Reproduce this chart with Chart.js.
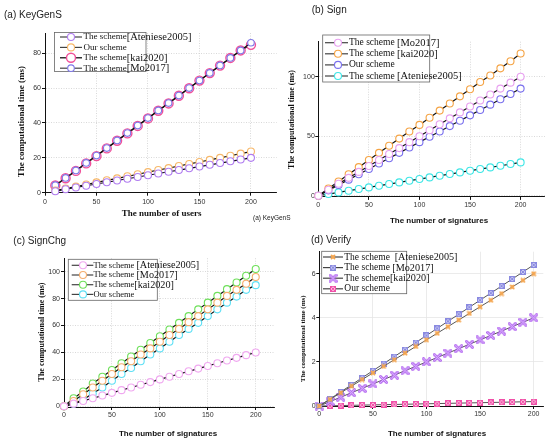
<!DOCTYPE html>
<html>
<head>
<meta charset="utf-8">
<script src="https://cdn.jsdelivr.net/npm/chart.js@4.4.0/dist/chart.umd.min.js"></script>
<style>
  body { margin: 0; background: #fff; width: 550px; height: 444px; position: relative; overflow: hidden; }
  .panel { position: absolute; }
</style>
</head>
<body>
<div class="panel" style="left:0;top:0;width:300px;height:222px"><canvas id="chartA"></canvas></div>
<div class="panel" style="left:280px;top:0;width:270px;height:230px"><canvas id="chartB"></canvas></div>
<div class="panel" style="left:0;top:222px;width:280px;height:222px"><canvas id="chartC"></canvas></div>
<div class="panel" style="left:280px;top:222px;width:270px;height:222px"><canvas id="chartD"></canvas></div>
<script>
// x values
const userCounts = [10, 20, 30, 40, 50, 60, 70, 80, 90, 100, 110, 120, 130, 140, 150, 160, 170, 180, 190, 200];
const signatureCounts = [0, 10, 20, 30, 40, 50, 60, 70, 80, 90, 100, 110, 120, 130, 140, 150, 160, 170, 180, 190, 200];

// tick labels
const xTickValues = [0, 50, 100, 150, 200];
const keyGenTicksY = [0, 20, 40, 60, 80];
const signTicksY = [0, 50, 100];
const signChgTicksY = [0, 20, 40, 60, 80, 100];
const verifyTicksY = [0, 2, 4, 6];

// (a) KeyGenS
const keyGenAteniese = [0.8, 2, 3, 4, 5, 6, 7, 8, 9, 10, 11, 12, 13, 14, 15, 16, 17, 18, 19, 20];
const keyGenOur = [1.2, 2.4, 3.5, 4.7, 5.9, 7.1, 8.2, 9.4, 10.6, 11.8, 13, 14.1, 15.3, 16.5, 17.6, 18.8, 20, 21.2, 22.4, 23.6];
const keyGenKai = [4.1, 8.3, 12.5, 16.8, 21, 25.4, 29.8, 34, 38.3, 42.6, 47, 51.2, 55.6, 59.9, 64.3, 68.6, 72.9, 77.3, 81.6, 84.8];
const keyGenMo = [4.3, 8.5, 12.8, 17.1, 21.3, 25.6, 30, 34.2, 38.5, 42.8, 47.2, 51.4, 55.7, 60, 64.3, 68.7, 73, 77.3, 81.6, 86];

// (b) Sign
const signMo = [0, 5, 10, 15, 20, 25, 30, 35, 40, 45, 50, 55, 60, 65, 70, 75, 80, 85, 90, 95, 100];
const signKai = [0, 6, 12, 18, 24, 30, 36, 42, 48, 54, 59.5, 65.5, 71.5, 77.5, 83.5, 89.5, 95.5, 101, 107, 113, 119.5];
const signOur = [0, 4.5, 9, 13.5, 18, 22.5, 27, 31.5, 36, 40.5, 45, 49.5, 54, 58.5, 63, 67.5, 72, 76.5, 81, 85.5, 90];
const signAteniese = [0, 1.4, 2.8, 4.2, 5.6, 7, 8.4, 9.8, 11.2, 12.6, 14, 15.4, 16.8, 18.2, 19.6, 21, 22.4, 23.8, 25.2, 26.6, 28];

// (c) SignChg
const signChgAteniese = [0, 2, 4, 6, 8, 10, 12, 14, 16, 18, 20, 22, 24, 26, 28, 30, 32, 34, 36, 38, 40];
const signChgMo = [0, 4, 9, 14, 19, 24, 29, 33.5, 38.5, 43, 48, 53, 57.5, 62.5, 67, 72, 77, 82, 86.5, 91, 96];
const signChgKai = [0, 6, 11, 17, 22, 27, 32, 37, 42, 47, 52, 57, 62, 67, 72, 77, 82, 87, 92, 97, 102];
const signChgOur = [0, 2, 5, 9.5, 14, 19, 24, 28.5, 33.5, 38.5, 43, 48, 53, 57.5, 62, 67, 72, 77, 81.5, 86.5, 90];

// (d) Verify
const verifyAteniese = [0, 0.3, 0.6, 0.9, 1.2, 1.5, 1.8, 2.1, 2.4, 2.7, 3, 3.3, 3.6, 3.9, 4.2, 4.5, 4.8, 5.1, 5.4, 5.7, 6];
const verifyMo = [0, 0.32, 0.64, 0.96, 1.28, 1.6, 1.92, 2.24, 2.56, 2.88, 3.2, 3.52, 3.84, 4.16, 4.48, 4.8, 5.12, 5.44, 5.76, 6.08, 6.4];
const verifyKai = [0, 0.2, 0.4, 0.6, 0.8, 1, 1.2, 1.4, 1.6, 1.8, 2, 2.2, 2.4, 2.6, 2.8, 3, 3.2, 3.4, 3.6, 3.8, 4];
const verifyOur = [0, 0.01, 0.02, 0.03, 0.04, 0.05, 0.06, 0.07, 0.08, 0.09, 0.1, 0.11, 0.12, 0.13, 0.14, 0.15, 0.16, 0.17, 0.18, 0.19, 0.2];

const SERIF = '"Liberation Serif", "Times New Roman", serif';
const SANS = '"Liberation Sans", Arial, sans-serif';
const Y_TITLE = 'The computational time (ms)';

// small marker images for the Verify panel
function boxCross(stroke, fill, size) {
    const c = document.createElement('canvas');
    c.width = c.height = size;
    const g = c.getContext('2d');
    g.fillStyle = fill;
    g.fillRect(0.5, 0.5, size - 1, size - 1);
    g.strokeStyle = stroke;
    g.lineWidth = 1;
    g.strokeRect(0.5, 0.5, size - 1, size - 1);
    g.beginPath();
    g.moveTo(1, 1); g.lineTo(size - 1, size - 1);
    g.moveTo(size - 1, 1); g.lineTo(1, size - 1);
    g.stroke();
    return c;
}
function outlinedX(stroke, inner, size, outer, core) {
    const c = document.createElement('canvas');
    c.width = c.height = size;
    const g = c.getContext('2d');
    g.lineCap = 'round';
    const cross = () => {
        g.beginPath();
        g.moveTo(1.5, 1.5); g.lineTo(size - 1.5, size - 1.5);
        g.moveTo(size - 1.5, 1.5); g.lineTo(1.5, size - 1.5);
        g.stroke();
    };
    g.strokeStyle = stroke; g.lineWidth = outer; cross();
    if (core) {
        g.strokeStyle = inner; g.lineWidth = core; cross();
    }
    return c;
}

function toPoints(xs, ys) {
    return xs.map((x, i) => ({ x: x, y: ys[i] }));
}

function circleSeries(label, color, xs, ys, extra) {
    return Object.assign({
        label: label,
        data: toPoints(xs, ys),
        borderColor: '#111',
        borderWidth: 1.2,
        pointStyle: 'circle',
        pointRadius: 3.5,
        pointBorderWidth: 1.1,
        pointBorderColor: color,
        pointBackgroundColor: '#fff',
        tension: 0,
        clip: false
    }, extra || {});
}

function markSeries(label, color, style, radius, xs, ys) {
    return {
        label: label,
        data: toPoints(xs, ys),
        borderColor: '#555',
        borderWidth: 1,
        pointStyle: style,
        pointRadius: radius,
        pointBorderWidth: 1.5,
        pointBorderColor: color,
        pointBackgroundColor: color,
        tension: 0,
        clip: false
    };
}

const panels = [
    {
        canvas: 'chartA', w: 300, h: 222,
        area: { left: 45, top: 33, right: 276.7, bottom: 192.7 },
        x: { min: 0, max: 225, ticks: xTickValues, pad: 2.5 },
        y: { min: 0, max: 91.6, ticks: keyGenTicksY, pad: 1 },
        grid: { color: '#cfcfcf', dash: [1, 1.5] },
        title: { text: '(a) KeyGenS', x: 4, y: 15 },
        caption: { text: '(a) KeyGenS', x: 253, y: 218.3 },
        xTitle: { text: 'The number of users', x: 161.7, y: 213.3, size: 9, family: SERIF },
        yTitle: { text: Y_TITLE, x: 21.7, y: 121.7, size: 9 },
        legend: { x: 54.5, y: 32.5, w: 91.5, h: 39, row0: 37, gap: 10.4, x0: 60, x1: 82, mx: 71, tx: 83.5, font: 9, big: 10.5 },
        series: [
            circleSeries('The scheme[Ateniese2005]', '#b07cf0', userCounts, keyGenAteniese),
            circleSeries('Our scheme', '#f7b86a', userCounts, keyGenOur),
            circleSeries('The scheme[kai2020]', '#f0509a', userCounts, keyGenKai, { pointRadius: 4.5, pointBorderWidth: 1.4, order: 1, legendLine: '#000' }),
            circleSeries('The scheme[Mo2017]', '#7f78e8', userCounts, keyGenMo, { pointRadius: 3.3, order: 0 })
        ]
    },
    {
        canvas: 'chartB', w: 270, h: 230,
        area: { left: 38.3, top: 41.7, right: 265, bottom: 196.9 },
        x: { min: 0, max: 224, ticks: xTickValues, pad: 1 },
        y: { min: -1, max: 129.4, ticks: signTicksY, pad: 0.5 },
        grid: { color: '#cfcfcf', dash: [1, 1.5] },
        title: { text: '(b) Sign', x: 31.7, y: 10 },
        xTitle: { text: 'The number of signatures', x: 159, y: 221, size: 8, family: SANS },
        yTitle: { text: Y_TITLE, x: 11.7, y: 119.5, size: 8 },
        legend: { x: 42.7, y: 35, w: 107, h: 47, row0: 42.7, gap: 11.1, x0: 45, x1: 68, mx: 58, tx: 69, font: 9.5, big: 10.5 },
        series: [
            circleSeries('The scheme [Mo2017]', '#e8a0f0', signatureCounts, signMo),
            circleSeries('The scheme [kai2020]', '#f5a445', signatureCounts, signKai),
            circleSeries('Our scheme', '#7a70ee', signatureCounts, signOur),
            circleSeries('The scheme [Ateniese2005]', '#3ee6e6', signatureCounts, signAteniese)
        ]
    },
    {
        canvas: 'chartC', w: 280, h: 222,
        area: { left: 64, top: 36.2, right: 277.1, bottom: 185 },
        x: { min: 0, max: 220, ticks: xTickValues, pad: 1 },
        y: { min: -0.5, max: 110, ticks: signChgTicksY, pad: 1 },
        grid: { color: '#cfcfcf', dash: [1, 1.5] },
        title: { text: '(c) SignChg', x: 13.3, y: 19.5 },
        xTitle: { text: 'The number of signatures', x: 168, y: 211.7, size: 8, family: SANS },
        yTitle: { text: Y_TITLE, x: 41.7, y: 110, size: 8 },
        legend: { x: 68.3, y: 37.3, w: 89, h: 41, row0: 43.3, gap: 9.7, x0: 71.7, x1: 93.3, mx: 83, tx: 93.5, font: 8.5, big: 10.2 },
        series: [
            circleSeries('The scheme [Ateniese2005]', '#f0a8f0', signatureCounts, signChgAteniese),
            circleSeries('The scheme [Mo2017]', '#f5ae6e', signatureCounts, signChgMo),
            circleSeries('The scheme[kai2020]', '#6ee05a', signatureCounts, signChgKai),
            circleSeries('Our scheme', '#5ee0f5', signatureCounts, signChgOur)
        ]
    },
    {
        canvas: 'chartD', w: 270, h: 222,
        area: { left: 39.3, top: 29.7, right: 263.3, bottom: 184 },
        x: { min: 0, max: 209, ticks: xTickValues, pad: 1 },
        y: { min: 0, max: 7, ticks: verifyTicksY, pad: 0.6 },
        grid: { color: '#e6e6e6', dash: [] },
        title: { text: '(d) Verify', x: 31, y: 18 },
        xTitle: { text: 'The number of signatures', x: 157, y: 211.7, size: 8, family: SANS },
        yTitle: { text: Y_TITLE, x: 23.3, y: 116.7, size: 7 },
        legend: { x: 41.7, y: 29.3, w: 85, h: 42.4, row0: 35, gap: 10.6, x0: 43, x1: 63, mx: 53, tx: 64.3, font: 9.5, big: 10.2 },
        series: [
            markSeries('The scheme  [Ateniese2005]', '#f5a650', outlinedX('#f5a650', '#fff', 6, 1.8, 0), 3, signatureCounts, verifyAteniese),
            markSeries('The scheme [Mo2017]', '#8a8ae0', boxCross('#8a8ae0', '#cacaf3', 6), 3, signatureCounts, verifyMo),
            markSeries('The scheme[kai2020]', '#b060f0', outlinedX('#b060f0', '#e6ccff', 9, 2.8, 1), 4.5, signatureCounts, verifyKai),
            markSeries('Our scheme', '#f050a8', boxCross('#f050a8', '#fbc4e0', 6), 3, signatureCounts, verifyOur)
        ]
    }
];

function drawMarker(ctx, chart, i, x, y) {
    const meta = chart.getDatasetMeta(i);
    const el = meta.data[1] || meta.data[0];
    if (!el) return;
    const o = el.options;
    ctx.save();
    ctx.setLineDash([]);
    ctx.fillStyle = o.backgroundColor;
    ctx.strokeStyle = o.borderColor;
    ctx.lineWidth = o.borderWidth;
    if (Chart.helpers && Chart.helpers.drawPoint) {
        Chart.helpers.drawPoint(ctx, o, x, y);
    } else {
        ctx.beginPath();
        ctx.arc(x, y, o.radius, 0, Math.PI * 2);
        ctx.fill();
        ctx.stroke();
    }
    ctx.restore();
}

function makeDecor(p) {
    return {
        id: 'panelDecor',
        afterDraw(chart) {
            const ctx = chart.ctx;
            ctx.save();
            ctx.textBaseline = 'middle';

            // panel title
            ctx.fillStyle = '#222';
            ctx.textAlign = 'left';
            ctx.font = '10px ' + SANS;
            ctx.fillText(p.title.text, p.title.x, p.title.y);
            if (p.caption) {
                ctx.font = '6.5px ' + SANS;
                ctx.fillText(p.caption.text, p.caption.x, p.caption.y);
            }

            // axis titles
            ctx.fillStyle = '#111';
            ctx.textAlign = 'center';
            ctx.font = 'bold ' + p.xTitle.size + 'px ' + p.xTitle.family;
            ctx.fillText(p.xTitle.text, p.xTitle.x, p.xTitle.y);
            ctx.save();
            ctx.translate(p.yTitle.x, p.yTitle.y);
            ctx.rotate(-Math.PI / 2);
            ctx.font = 'bold ' + p.yTitle.size + 'px ' + SERIF;
            ctx.fillText(p.yTitle.text, 0, 0);
            ctx.restore();

            // legend
            const lg = p.legend;
            ctx.fillStyle = '#fff';
            ctx.fillRect(lg.x, lg.y, lg.w, lg.h);
            ctx.strokeStyle = '#666';
            ctx.lineWidth = 0.8;
            ctx.strokeRect(lg.x, lg.y, lg.w, lg.h);
            p.series.forEach((s, i) => {
                const y = lg.row0 + i * lg.gap;
                ctx.strokeStyle = s.legendLine || '#444';
                ctx.lineWidth = 1.2;
                ctx.beginPath();
                ctx.moveTo(lg.x0, y);
                ctx.lineTo(lg.x1, y);
                ctx.stroke();
                drawMarker(ctx, chart, i, lg.mx, y);

                const parts = s.label.match(/^([^\[]*)(\[.*\])?$/);
                ctx.fillStyle = '#111';
                ctx.textAlign = 'left';
                ctx.font = lg.font + 'px ' + SERIF;
                ctx.fillText(parts[1], lg.tx, y);
                if (parts[2]) {
                    const w = ctx.measureText(parts[1]).width;
                    ctx.font = lg.big + 'px ' + SERIF;
                    ctx.fillText(parts[2], lg.tx + w, y + 0.3);
                }
            });
            ctx.restore();
        }
    };
}

function axisOptions(p, axis, isX) {
    const a = p[axis];
    return {
        type: 'linear',
        min: a.min,
        max: a.max,
        afterBuildTicks: function(scale) {
            scale.ticks = a.ticks.map(v => ({ value: v }));
        },
        afterFit: function(scale) {
            if (isX) {
                scale.height = p.h - p.area.bottom;
            } else {
                scale.width = p.area.left;
            }
        },
        grid: {
            color: p.grid.color,
            lineWidth: 0.8,
            drawTicks: true,
            tickLength: 3,
            tickColor: '#111',
            tickWidth: 1
        },
        border: { display: true, color: '#111', width: 1, dash: p.grid.dash },
        ticks: {
            padding: a.pad,
            color: '#333',
            maxRotation: 0,
            autoSkip: false,
            font: { family: SANS, size: 7 }
        }
    };
}

panels.forEach(function(p) {
    new Chart(document.getElementById(p.canvas), {
        type: 'line',
        data: { datasets: p.series },
        options: {
            responsive: true,
            maintainAspectRatio: false,
            animation: false,
            layout: { padding: { left: 0, top: p.area.top, right: p.w - p.area.right, bottom: 0 } },
            plugins: { legend: { display: false }, tooltip: { enabled: false } },
            scales: {
                x: axisOptions(p, 'x', true),
                y: axisOptions(p, 'y', false)
            }
        },
        plugins: [makeDecor(p)]
    });
});
</script>
</body>
</html>
